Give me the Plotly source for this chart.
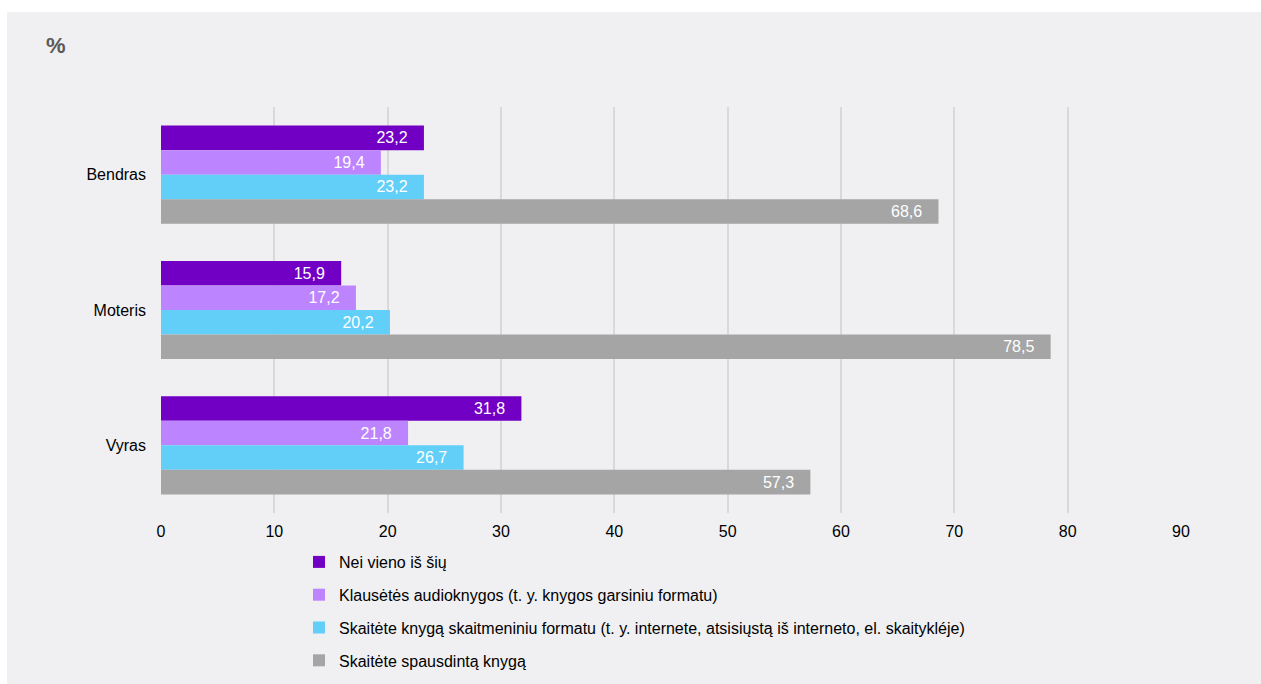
import plotly.graph_objects as go

categories = ["Bendras", "Moteris", "Vyras"]
series_names = [
    "Nei vieno iš šių",
    "Klausėtės audioknygos (t. y. knygos garsiniu formatu)",
    "Skaitėte knygą skaitmeniniu formatu (t. y. internete, atsisiųstą iš interneto, el. skaitykléje)",
    "Skaitėte spausdintą knygą",
]
nei_vieno = [23.2, 15.9, 31.8]
audio = [19.4, 17.2, 21.8]
skaitmeninis = [23.2, 20.2, 26.7]
spausdinta = [68.6, 78.5, 57.3]
x_ticks = [0, 10, 20, 30, 40, 50, 60, 70, 80, 90]

colors = ["#7200c4", "#bd84ff", "#62cff8", "#a5a5a5"]
series_values = [nei_vieno, audio, skaitmeninis, spausdinta]

W, H = 1261, 684
L, R, T, B = 161, 80, 107, 171
pw = W - L - R
ph = H - T - B

def px_x(p):  # page pixel -> paper x
    return (p - L) / pw

def px_y(p):  # page pixel -> paper y
    return (H - B - p) / ph

font_family = "Liberation Sans, Arial, sans-serif"
pad = "\u00a0\u00a0\u00a0"

fig = go.Figure()
for i, (name, vals) in enumerate(zip(series_names, series_values)):
    fig.add_trace(go.Bar(
        y=categories, x=vals, name=name, orientation="h",
        marker=dict(color=colors[i], line=dict(width=0)),
        text=[f"{v:.1f}".replace(".", ",") + pad for v in vals],
        textposition="inside", insidetextanchor="end",
        textfont=dict(color="white", size=16, family=font_family),
        legendgroup=f"g{i}",
    ))

fig.update_layout(
    width=W, height=H,
    margin=dict(l=L, r=R, t=T, b=B, pad=0, autoexpand=False),
    paper_bgcolor="white",
    plot_bgcolor="rgba(0,0,0,0)",
    barmode="group", bargap=0.275, bargroupgap=0.0,
    font=dict(family=font_family, size=16, color="#000000"),
    showlegend=True,
    legend=dict(
        x=px_x(299), y=px_y(545), xanchor="left", yanchor="top",
        orientation="v", traceorder="grouped", tracegroupgap=9,
        font=dict(size=16, color="#000000", family=font_family),
        bgcolor="rgba(0,0,0,0)", itemwidth=30,
    ),
    xaxis=dict(
        range=[0, 90], tickvals=x_ticks, showgrid=True,
        gridcolor="#d9d9d9", gridwidth=2, zeroline=False,
        showline=False, ticks="", tickfont=dict(size=16, color="#000000"),
        ticklabelstandoff=7,
    ),
    yaxis=dict(
        autorange="reversed", showgrid=False, showline=False, ticks="",
        tickfont=dict(size=16, color="#000000"), ticklabelstandoff=14,
    ),
    shapes=[dict(
        type="rect", xref="paper", yref="paper",
        x0=px_x(7), x1=px_x(W + 10), y0=px_y(H + 10), y1=px_y(12),
        fillcolor="#f0f0f3", line=dict(width=0), layer="below",
    )],
    annotations=[dict(
        text="<b>%</b>", xref="paper", yref="paper",
        x=px_x(44), y=px_y(45), xanchor="left", yanchor="middle",
        showarrow=False, font=dict(size=22, color="#595959", family=font_family),
    )],
)

fig.write_html(
    "out.html",
    config={"displayModeBar": False},
    post_script="document.body.style.margin='0';document.body.style.overflow='hidden';",
)
